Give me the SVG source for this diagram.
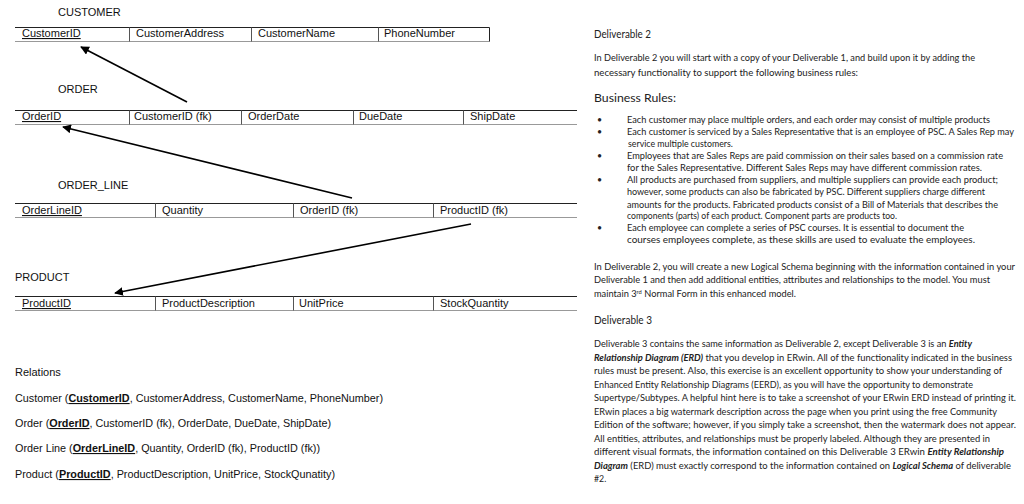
<svg xmlns="http://www.w3.org/2000/svg" width="1024" height="504" viewBox="0 0 1024 504">
<defs>
<style>
.t{font-family:"Liberation Sans",Arial,sans-serif;font-size:11px;fill:#111}
.top{stroke:#222;stroke-width:1}
.bot{stroke:#999;stroke-width:1}
.div{stroke:#555;stroke-width:1}
.r{font-family:Lato,"Open Sans",sans-serif;font-size:8.8px;fill:#222}
.h{font-family:Lato,"Open Sans",sans-serif;font-size:11px;fill:#222}
.bi{font-weight:bold;font-style:italic}
.pk{font-weight:bold;text-decoration:underline}
.u{text-decoration:underline}
.conn{stroke:#000;stroke-width:1.6;fill:none}
</style>
<marker id="ah" viewBox="0 0 10 10" refX="9" refY="5" markerWidth="5.5" markerHeight="5.5" orient="auto" markerUnits="strokeWidth">
<path d="M0,0 L10,5 L0,10 z" fill="#000"/>
</marker>
</defs>
<rect width="1024" height="504" fill="#fff"/>

<g id="customer">
<text class="t" x="58" y="16">CUSTOMER</text>
<line class="top" x1="15" y1="27.5" x2="489.5" y2="27.5"/>
<line class="bot" x1="15" y1="41.5" x2="489.5" y2="41.5"/>
<line class="div" x1="129.5" y1="27.5" x2="129.5" y2="41.5"/>
<line class="div" x1="251.5" y1="27.5" x2="251.5" y2="41.5"/>
<line class="div" x1="378.5" y1="27.5" x2="378.5" y2="41.5"/>
<line class="top" x1="489.5" y1="27.5" x2="489.5" y2="41.5"/>
<text class="t u" x="22" y="37">CustomerID</text>
<text class="t" x="136" y="37">CustomerAddress</text>
<text class="t" x="258" y="37">CustomerName</text>
<text class="t" x="384" y="37">PhoneNumber</text>
</g>

<g id="order">
<text class="t" x="58" y="93">ORDER</text>
<line class="top" x1="15" y1="110.5" x2="577" y2="110.5"/>
<line class="bot" x1="15" y1="124.5" x2="577" y2="124.5"/>
<line class="div" x1="129.5" y1="110.5" x2="129.5" y2="124.5"/>
<line class="div" x1="241.5" y1="110.5" x2="241.5" y2="124.5"/>
<line class="div" x1="353.5" y1="110.5" x2="353.5" y2="124.5"/>
<line class="div" x1="463.5" y1="110.5" x2="463.5" y2="124.5"/>
<text class="t u" x="22" y="120">OrderID</text>
<text class="t" x="134" y="120">CustomerID (fk)</text>
<text class="t" x="248" y="120">OrderDate</text>
<text class="t" x="359" y="120">DueDate</text>
<text class="t" x="470" y="120">ShipDate</text>
</g>

<g id="order_line">
<text class="t" x="58" y="189">ORDER_LINE</text>
<line class="top" x1="15" y1="203.5" x2="577" y2="203.5"/>
<line class="bot" x1="15" y1="217.5" x2="577" y2="217.5"/>
<line class="div" x1="155.5" y1="203.5" x2="155.5" y2="217.5"/>
<line class="div" x1="293.5" y1="203.5" x2="293.5" y2="217.5"/>
<line class="div" x1="433.5" y1="203.5" x2="433.5" y2="217.5"/>
<text class="t u" x="22" y="214">OrderLineID</text>
<text class="t" x="162" y="214">Quantity</text>
<text class="t" x="300" y="214">OrderID (fk)</text>
<text class="t" x="440" y="214">ProductID (fk)</text>
</g>

<g id="product">
<text class="t" x="15" y="281">PRODUCT</text>
<line class="top" x1="15" y1="296.5" x2="577" y2="296.5"/>
<line class="bot" x1="15" y1="310.5" x2="577" y2="310.5"/>
<line class="div" x1="155.5" y1="296.5" x2="155.5" y2="310.5"/>
<line class="div" x1="293.5" y1="296.5" x2="293.5" y2="310.5"/>
<line class="div" x1="433.5" y1="296.5" x2="433.5" y2="310.5"/>
<text class="t u" x="22" y="307">ProductID</text>
<text class="t" x="162" y="307">ProductDescription</text>
<text class="t" x="299" y="307">UnitPrice</text>
<text class="t" x="440" y="307">StockQuantity</text>
</g>

<g id="connectors">
<line class="conn" x1="187" y1="102" x2="81" y2="47" marker-end="url(#ah)"/>
<line class="conn" x1="352" y1="198" x2="63" y2="127" marker-end="url(#ah)"/>
<line class="conn" x1="471" y1="224" x2="115" y2="293" marker-end="url(#ah)"/>
</g>

<g id="relations">
<text class="t" x="15" y="376">Relations</text>
<text class="t" x="15" y="402" textLength="368" lengthAdjust="spacingAndGlyphs">Customer (<tspan class="pk">CustomerID</tspan>, CustomerAddress, CustomerName, PhoneNumber)</text>
<text class="t" x="15" y="427" textLength="316" lengthAdjust="spacingAndGlyphs">Order (<tspan class="pk">OrderID</tspan>, CustomerID (fk), OrderDate, DueDate, ShipDate)</text>
<text class="t" x="15" y="452" textLength="305" lengthAdjust="spacingAndGlyphs">Order Line (<tspan class="pk">OrderLineID</tspan>, Quantity, OrderID (fk), ProductID (fk))</text>
<text class="t" x="15" y="478" textLength="320" lengthAdjust="spacingAndGlyphs">Product (<tspan class="pk">ProductID</tspan>, ProductDescription, UnitPrice, StockQunatity)</text>
</g>

<g id="deliverable2">
<text class="h" x="594" y="38" textLength="57" lengthAdjust="spacingAndGlyphs">Deliverable 2</text>
<text class="r" x="594" y="61" textLength="381" lengthAdjust="spacingAndGlyphs">In Deliverable 2 you will start with a copy of your Deliverable 1, and build upon it by adding the</text>
<text class="r" x="594" y="76" textLength="264" lengthAdjust="spacingAndGlyphs">necessary functionality to support the following business rules:</text>
<text class="h" x="594" y="102" textLength="82" lengthAdjust="spacingAndGlyphs">Business Rules:</text>
<text class="r" x="597" y="123">•</text>
<text class="r" x="597" y="135">•</text>
<text class="r" x="597" y="159">•</text>
<text class="r" x="597" y="183">•</text>
<text class="r" x="597" y="231">•</text>
<text class="r" x="627" y="123" textLength="363" lengthAdjust="spacingAndGlyphs">Each customer may place multiple orders, and each order may consist of multiple products</text>
<text class="r" x="627" y="135" textLength="387" lengthAdjust="spacingAndGlyphs">Each customer is serviced by a Sales Representative that is an employee of PSC. A Sales Rep may</text>
<text class="r" x="628" y="147">service multiple customers.</text>
<text class="r" x="627" y="159" textLength="376" lengthAdjust="spacingAndGlyphs">Employees that are Sales Reps are paid commission on their sales based on a commission rate</text>
<text class="r" x="627" y="171" textLength="355" lengthAdjust="spacingAndGlyphs">for the Sales Representative. Different Sales Reps may have different commission rates.</text>
<text class="r" x="627" y="183" textLength="371" lengthAdjust="spacingAndGlyphs">All products are purchased from suppliers, and multiple suppliers can provide each product;</text>
<text class="r" x="627" y="195" textLength="358" lengthAdjust="spacingAndGlyphs">however, some products can also be fabricated by PSC. Different suppliers charge different</text>
<text class="r" x="627" y="208" textLength="371" lengthAdjust="spacingAndGlyphs">amounts for the products. Fabricated products consist of a Bill of Materials that describes the</text>
<text class="r" x="627" y="219" textLength="270" lengthAdjust="spacingAndGlyphs">components (parts) of each product. Component parts are products too.</text>
<text class="r" x="627" y="231" textLength="337" lengthAdjust="spacingAndGlyphs">Each employee can complete a series of PSC courses. It is essential to document the</text>
<text class="r" x="627" y="243" textLength="348" lengthAdjust="spacingAndGlyphs">courses employees complete, as these skills are used to evaluate the employees.</text>
<text class="r" x="594" y="270" textLength="421" lengthAdjust="spacingAndGlyphs">In Deliverable 2, you will create a new Logical Schema beginning with the information contained in your</text>
<text class="r" x="594" y="283" textLength="396" lengthAdjust="spacingAndGlyphs">Deliverable 1 and then add additional entities, attributes and relationships to the model. You must</text>
<text class="r" x="594" y="297" textLength="202" lengthAdjust="spacingAndGlyphs">maintain 3<tspan font-size="5.5" baseline-shift="super">rd</tspan> Normal Form in this enhanced model.</text>
</g>

<g id="deliverable3">
<text class="h" x="594" y="324" textLength="58" lengthAdjust="spacingAndGlyphs">Deliverable 3</text>
<text class="r" x="594" y="347" textLength="378" lengthAdjust="spacingAndGlyphs">Deliverable 3 contains the same information as Deliverable 2, except Deliverable 3 is an <tspan class="bi">Entity</tspan></text>
<text class="r" x="594" y="360.5" textLength="418" lengthAdjust="spacingAndGlyphs"><tspan class="bi">Relationship Diagram (ERD)</tspan> that you develop in ERwin. All of the functionality indicated in the business</text>
<text class="r" x="594" y="374" textLength="408" lengthAdjust="spacingAndGlyphs">rules must be present. Also, this exercise is an excellent opportunity to show your understanding of</text>
<text class="r" x="594" y="387.5" textLength="379" lengthAdjust="spacingAndGlyphs">Enhanced Entity Relationship Diagrams (EERD), as you will have the opportunity to demonstrate</text>
<text class="r" x="594" y="401" textLength="422" lengthAdjust="spacingAndGlyphs">Supertype/Subtypes. A helpful hint here is to take a screenshot of your ERwin ERD instead of printing it.</text>
<text class="r" x="594" y="414.5" textLength="403" lengthAdjust="spacingAndGlyphs">ERwin places a big watermark description across the page when you print using the free Community</text>
<text class="r" x="594" y="428" textLength="422" lengthAdjust="spacingAndGlyphs">Edition of the software; however, if you simply take a screenshot, then the watermark does not appear.</text>
<text class="r" x="594" y="441.5" textLength="396" lengthAdjust="spacingAndGlyphs">All entities, attributes, and relationships must be properly labeled. Although they are presented in</text>
<text class="r" x="594" y="455" textLength="410" lengthAdjust="spacingAndGlyphs">different visual formats, the information contained on this Deliverable 3 ERwin <tspan class="bi">Entity Relationship</tspan></text>
<text class="r" x="594" y="468.5" textLength="417" lengthAdjust="spacingAndGlyphs"><tspan class="bi">Diagram</tspan> (ERD) must exactly correspond to the information contained on <tspan class="bi">Logical Schema</tspan> of deliverable</text>
<text class="r" x="594" y="482">#2.</text>
</g>
</svg>
